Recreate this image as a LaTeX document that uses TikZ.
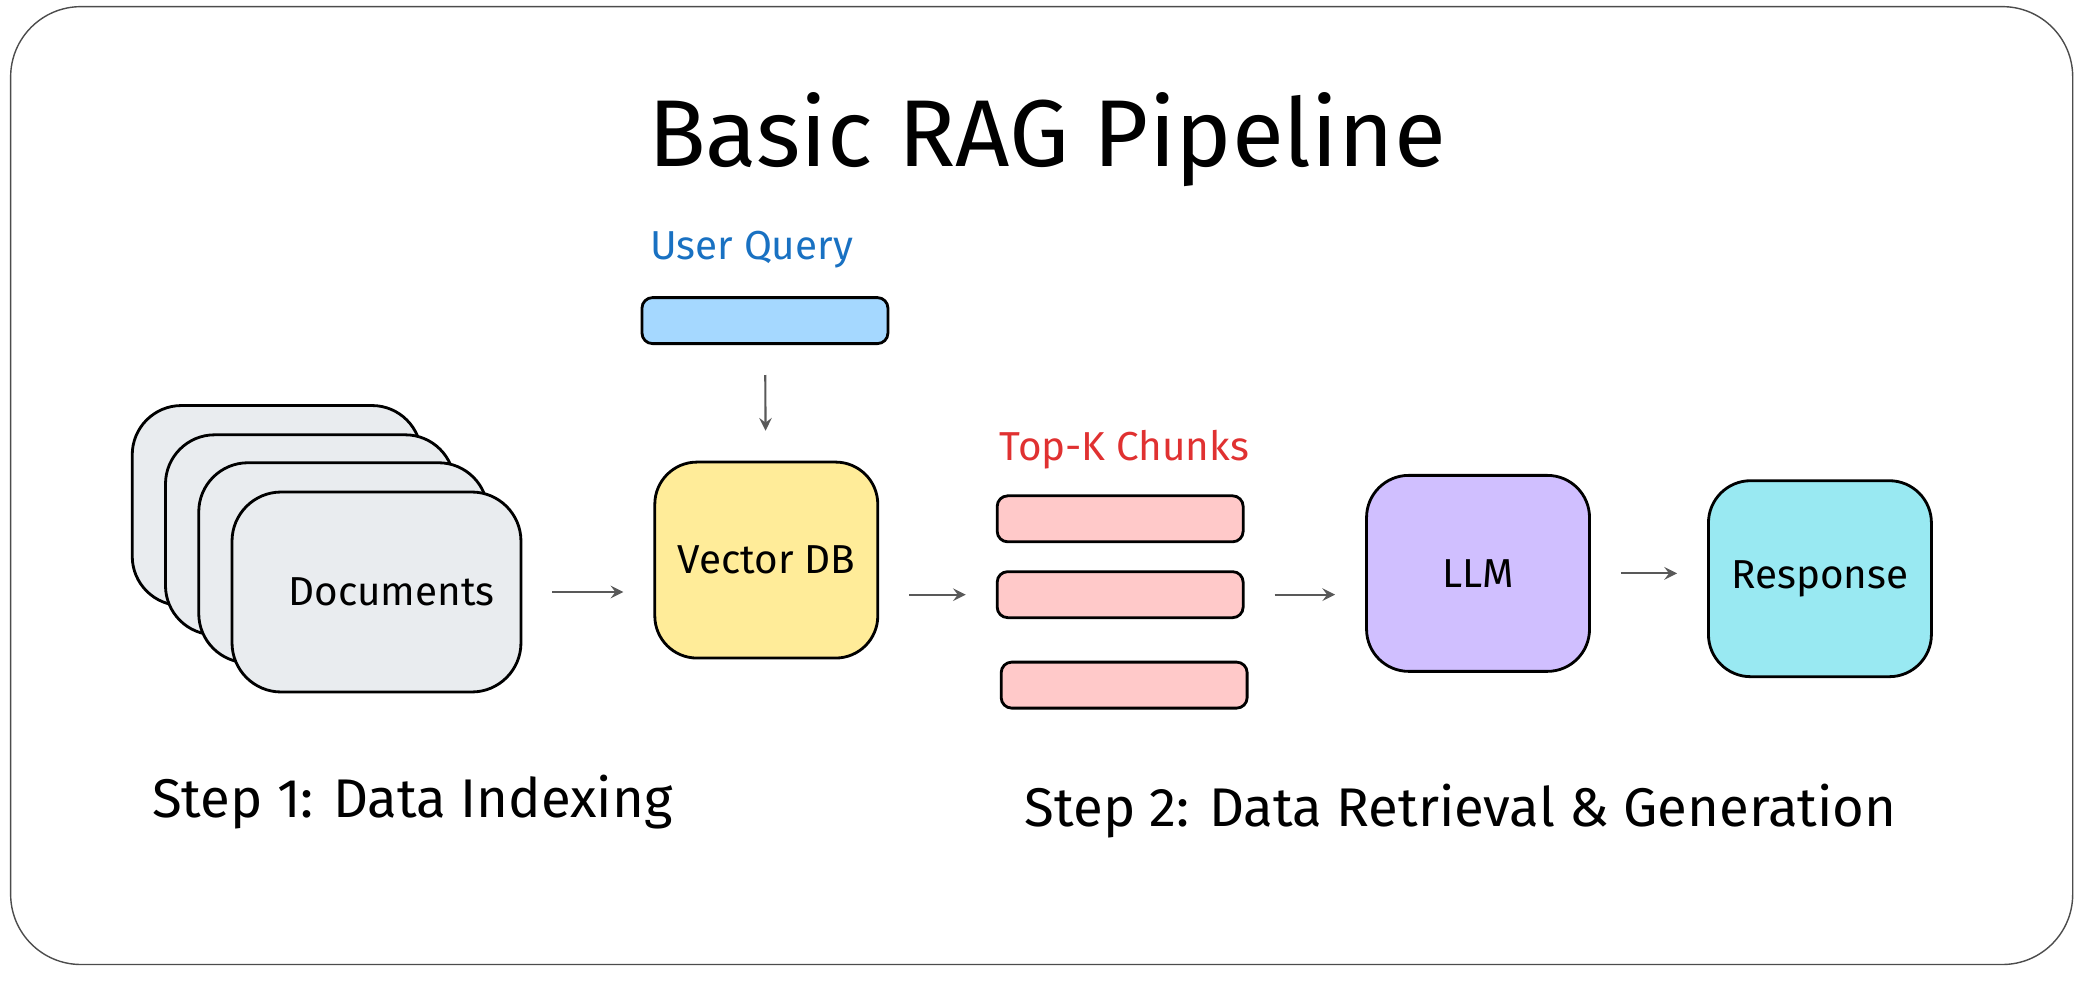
\documentclass[tikz,border=0pt]{standalone}
\usepackage{fontspec}
\setmainfont{Fira Sans}
\usetikzlibrary{positioning}
\definecolor{docgray}{HTML}{E9ECEF}
\definecolor{dbyellow}{HTML}{FFEC99}
\definecolor{qblue}{HTML}{A5D8FF}
\definecolor{chunkpink}{HTML}{FFC9C9}
\definecolor{llmpurple}{HTML}{D0BFFF}
\definecolor{respcyan}{HTML}{99E9F2}
\definecolor{txtblue}{HTML}{1971C2}
\definecolor{txtred}{HTML}{E03131}
\begin{document}
\begin{tikzpicture}[x=0.0133cm, y=-0.0133cm,
  box/.style={draw=black, thick, rounded corners=12pt, minimum width=2.23cm, minimum height=1.96cm, font=\fontsize{11.5}{14}\selectfont},
  doc/.style={draw=black, thick, fill=docgray, rounded corners=14pt, minimum width=2.89cm, minimum height=2.0cm},
  bar/.style={draw=black, thick, rounded corners=3pt, minimum width=2.46cm, minimum height=0.46cm},
  flow/.style={->, >=stealth, semithick, gray!70!black, shorten >=0.3cm, shorten <=0.3cm},
  steplabel/.style={font=\fontsize{15.5}{18}\selectfont}]
\useasboundingbox (0,0) rectangle (1568,742.7);
\draw [gray!60!black, rounded corners=20pt] (8,5) rectangle (1558,725);
\node (title) at (787,105) {\fontsize{27}{30}\selectfont Basic RAG Pipeline};
% data indexing
\node [doc] (d1) at (208,380) {};
\node [doc] (d2) at (233,402) {};
\node [doc] (d3) at (258,423) {};
\node [doc, font=\fontsize{11.5}{14}\selectfont] (docs) at (283,445) {\hspace{0.3cm}Documents};
\node [box, fill=dbyellow] (vdb) at (576,421) {Vector DB};
\node [bar, fill=qblue] (query) at (575,241) {};
\node [txtblue, font=\fontsize{11.5}{14}\selectfont] (qlabel) at (565,188) {User Query};
% retrieval
\node [bar, fill=chunkpink] (c1) at (842,390) {};
\node [bar, fill=chunkpink] (c2) at (842,447) {};
\node [bar, fill=chunkpink] (c3) at (845,515) {};
\node [txtred, font=\fontsize{11.5}{14}\selectfont] (clabel) at (845,338) {Top-K Chunks};
\node [box, fill=llmpurple] (llm) at (1111,431) {LLM};
\node [box, fill=respcyan] (resp) at (1368,435) {Response};
\draw [flow] (query) -- (vdb);
\draw [flow] (docs) -- (docs -| vdb.west);
\draw [flow] (vdb.east |- c2) -- (c2);
\draw [flow] (c2.east) -- (c2.east -| llm.west);
\draw [flow] (llm) -- (llm -| resp.west);
\node [steplabel] (s1) at (310,603) {Step 1: Data Indexing};
\node [steplabel] (s2) at (1098,610) {Step 2: Data Retrieval \& Generation};
\end{tikzpicture}
\end{document}
